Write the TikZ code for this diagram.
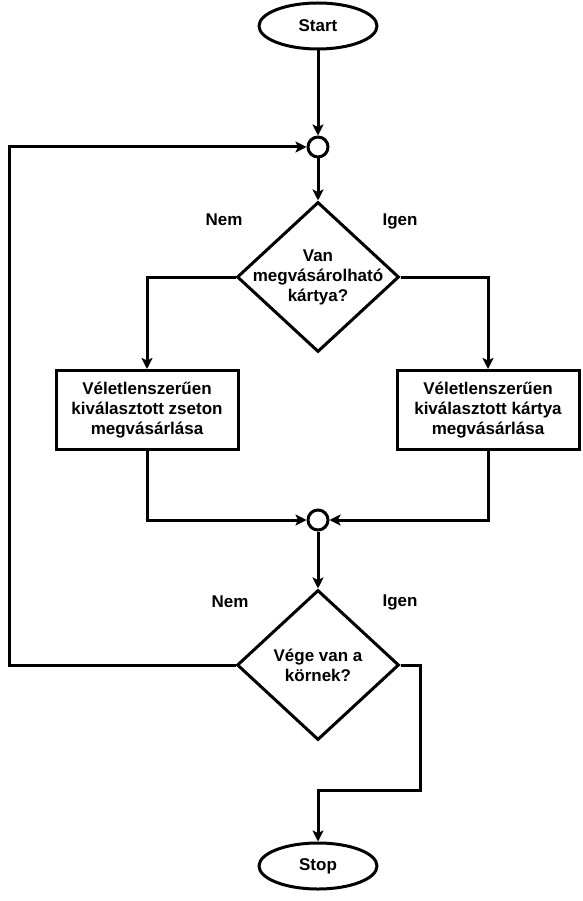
\documentclass[tikz,border=0pt]{standalone}
\usepackage{fontspec}
\setmainfont{Liberation Sans}
\usetikzlibrary{positioning}
\usetikzlibrary{arrows.meta}
\usetikzlibrary{shapes.geometric}
\tikzset{terminal/.style={ellipse,draw=black,line width=3pt,fill=white,
inner sep=0pt,minimum width=118pt, minimum height=46pt}}
\tikzset{junction/.style={circle,draw=black,line width=3pt,fill=white,
inner sep=0pt,minimum size=20pt}}
\tikzset{decision/.style={diamond,draw=black,line width=3pt,fill=white,
inner sep=-10pt,minimum width=162pt, minimum height=150pt,align=center}}
\tikzset{process/.style={rectangle,draw=black,line width=3pt,fill=white,
inner sep=2pt,minimum width=182pt, minimum height=79pt,align=center}}
\tikzset{branch/.style={rectangle,draw=none,inner sep=0pt}}
\tikzset{flow/.style={line width=3pt,-{Stealth[length=11pt,width=11pt,inset=2.5pt]}}}

\begin{document}
\begin{tikzpicture}[x=1pt,y=-1pt,font=\bfseries\fontsize{17}{20}\selectfont]
        \useasboundingbox (0,0) rectangle (582,901);

        \node[terminal] (start) at (318, 26) {Start};
        \node[junction] (joinA) at (318, 147) {};
        \node[decision] (kartyaQ) at (318, 277) {Van\\megvásárolható\\kártya?};
        \node[process] (zseton) at (147, 410) {Véletlenszerűen\\kiválasztott zseton\\megvásárlása};
        \node[process] (kartya) at (488, 410) {Véletlenszerűen\\kiválasztott kártya\\megvásárlása};
        \node[junction] (joinB) at (318, 520) {};
        \node[decision] (vegeQ) at (318, 665) {Vége van a\\körnek?};
        \node[terminal] (stop) at (318, 866) {Stop};

        \node[branch] (nemA) at (224, 220) {Nem};
        \node[branch] (igenA) at (400, 221) {Igen};
        \node[branch] (nemB) at (230, 602) {Nem};
        \node[branch] (igenB) at (400, 602) {Igen};

        \coordinate (loopL) at (9, 665);
        \coordinate (exitR) at (420, 790);

        \draw [flow] (start) -- (joinA);
        \draw [flow] (joinA) -- (kartyaQ);
        \draw [flow] (kartyaQ.west) -| (zseton.north);
        \draw [flow] (kartyaQ.east) -| (kartya.north);
        \draw [flow] (zseton.south) |- (joinB.west);
        \draw [flow] (kartya.south) |- (joinB.east);
        \draw [flow] (joinB) -- (vegeQ);
        \draw [flow] (vegeQ.west) -- (loopL) |- (joinA.west);
        \draw [flow] (vegeQ.east) -| (exitR) -| (stop.north);

    \end{tikzpicture}
\end{document}
